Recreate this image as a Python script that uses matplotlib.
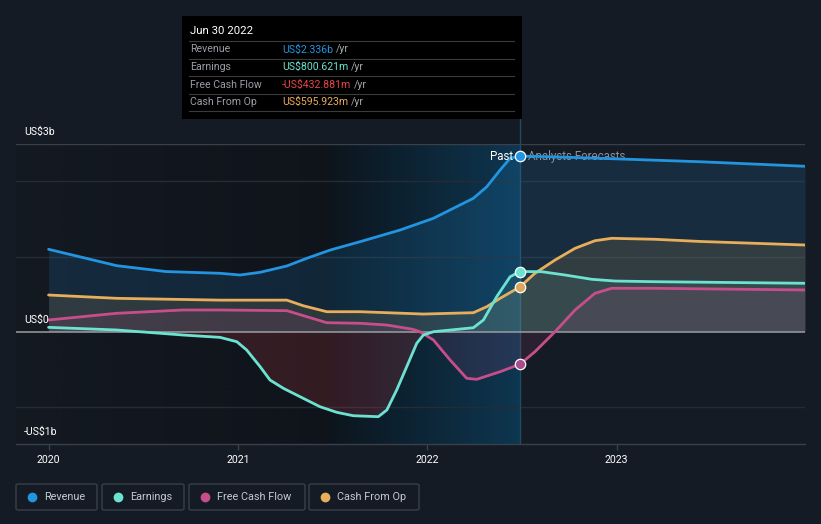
import numpy as np
import matplotlib
matplotlib.use("Agg")
import matplotlib.pyplot as plt
from matplotlib.lines import Line2D
from matplotlib.patches import Rectangle, FancyBboxPatch
from matplotlib.colors import to_rgb

plt.rcParams['font.family'] = ['Roboto', 'DejaVu Sans']

# ---------------- data (US$ billions, decimal years) ----------------
rev_dates = [2020.0, 2020.36, 2020.62, 2020.905, 2021.011, 2021.117, 2021.258, 2021.363, 2021.487,
             2021.645, 2021.856, 2022.032, 2022.243, 2022.314, 2022.384, 2022.437, 2022.489,
             2022.60, 2022.912, 2023.44, 2023.994]
rev_vals = [1.096, 0.878, 0.80, 0.777, 0.754, 0.79, 0.874, 0.976, 1.086,
            1.197, 1.352, 1.508, 1.774, 1.928, 2.15, 2.306, 2.336,
            2.33, 2.306, 2.26, 2.20]

earn_dates = [2020.0, 2020.36, 2020.71, 2020.905, 2020.994, 2021.046, 2021.117, 2021.169, 2021.240,
              2021.345, 2021.433, 2021.522, 2021.609, 2021.741, 2021.786, 2021.838, 2021.891,
              2021.944, 2021.979, 2022.032, 2022.243, 2022.296, 2022.366, 2022.437, 2022.489,
              2022.604, 2022.727, 2022.868, 2022.991, 2023.202, 2023.994]
earn_vals = [0.058, 0.023, -0.044, -0.075, -0.133, -0.243, -0.465, -0.642, -0.753,
             -0.886, -0.997, -1.072, -1.117, -1.13, -1.041, -0.775, -0.465,
             -0.154, -0.044, 0.0, 0.053, 0.156, 0.465, 0.731, 0.8006,
             0.798, 0.754, 0.697, 0.674, 0.665, 0.644]

fcf_dates = [2020.0, 2020.36, 2020.71, 2020.905, 2021.258, 2021.363, 2021.469, 2021.645, 2021.786,
             2021.923, 2021.961, 2022.032, 2022.120, 2022.208, 2022.261, 2022.384, 2022.489,
             2022.568, 2022.674, 2022.780, 2022.885, 2022.973, 2023.202, 2023.994]
fcf_vals = [0.156, 0.245, 0.289, 0.289, 0.28, 0.2, 0.12, 0.112, 0.089,
            0.032, 0.0, -0.11, -0.376, -0.62, -0.633, -0.532, -0.433,
            -0.266, 0.0, 0.289, 0.511, 0.577, 0.577, 0.555]

cfo_dates = [2020.0, 2020.36, 2020.905, 2021.258, 2021.345, 2021.469, 2021.645, 2021.979, 2022.243,
             2022.314, 2022.384, 2022.489, 2022.568, 2022.674, 2022.780, 2022.885, 2022.973,
             2023.202, 2023.44, 2023.994]
cfo_vals = [0.488, 0.444, 0.42, 0.42, 0.345, 0.266, 0.266, 0.235, 0.253,
            0.333, 0.444, 0.596, 0.777, 0.953, 1.109, 1.21, 1.242,
            1.229, 1.20, 1.153]

present = 2022.489
band_start = 2021.49
year_ticks = [2020, 2021, 2022, 2023]
year_labels = ["2020", "2021", "2022", "2023"]
series_names = ["Revenue", "Earnings", "Free Cash Flow", "Cash From Op"]
tooltip_title = "Jun 30 2022"
tooltip_values = ["US$2.336b", "US$800.621m", "-US$432.881m", "US$595.923m"]

# ---------------- styles ----------------
BG = "#151b24"
C_REV = "#2394df"
C_EARN = "#6ce3d1"
C_FCF = "#c84e8b"
C_CFO = "#e8ae5c"
C_NEG = "#dc3c46"

W, H = 821, 524
fig = plt.figure(figsize=(W / 100, H / 100), dpi=100)
fig.patch.set_facecolor(BG)

def fx(px):
    return px / W

def fy(py):
    return 1 - py / H

ax = fig.add_axes([fx(16), fy(444), fx(805) - fx(16), fy(144.3) - fy(444)])
ax.set_facecolor(BG)
XL = (2019.828, 2023.994)
YL = (-1.493, 2.492)

# past-region darker gradient
g = np.linspace(0, 1, 256)
past = np.zeros((1, 256, 4))
past[0, :, :3] = to_rgb("#0c1016")
past[0, :, 3] = 0.15 + 0.45 * g
ax.imshow(past, extent=[XL[0], band_start, YL[0], YL[1]], aspect='auto', zorder=0.2,
          interpolation='bilinear')

# highlight band gradient
band = np.zeros((1, 256, 4))
c0 = np.array(to_rgb("#0a141c"))
c1 = np.array(to_rgb("#0c3f5e"))
band[0, :, :3] = c0[None, :] * (1 - g[:, None]) + c1[None, :] * g[:, None]
band[0, :, 3] = 0.78
ax.imshow(band, extent=[band_start, present, YL[0], YL[1]], aspect='auto', zorder=0.3,
          interpolation='bilinear')

# grid
for yv in [-1, 1, 2]:
    ax.axhline(yv, color="#252c36", lw=1.0, zorder=0.6)
ax.axhline(YL[1], color="#3a404a", lw=1.0, zorder=0.6)
ax.axvline(present, color="#1f4b63", lw=1.0, zorder=0.7)

# fills
ax.fill_between(rev_dates, 0, rev_vals, color=C_REV, alpha=0.15, lw=0, zorder=1)
ax.fill_between(cfo_dates, 0, cfo_vals, color=C_CFO, alpha=0.13, lw=0, zorder=1.1)
ev = np.array(earn_vals)
ax.fill_between(earn_dates, 0, ev, where=ev >= 0, interpolate=True, color=C_EARN, alpha=0.08, lw=0, zorder=1.2)
ax.fill_between(earn_dates, 0, ev, where=ev <= 0, interpolate=True, color=C_NEG, alpha=0.18, lw=0, zorder=1.2)
ax.fill_between(fcf_dates, 0, fcf_vals, color=C_FCF, alpha=0.12, lw=0, zorder=1.3)

ax.axhline(0, color="#9b9ca2", lw=1.1, zorder=2)

# lines
lw = 2.0
kw = dict(lw=lw, solid_capstyle='round', solid_joinstyle='round')
ax.plot(cfo_dates, cfo_vals, color=C_CFO, zorder=3, **kw)
ax.plot(fcf_dates, fcf_vals, color=C_FCF, zorder=3.1, **kw)
ax.plot(earn_dates, earn_vals, color=C_EARN, zorder=3.2, **kw)
ax.plot(rev_dates, rev_vals, color=C_REV, zorder=3.3, **kw)

# markers at present
def val_at(dates, vals, t):
    return vals[dates.index(t)]

for d, v, c in [(rev_dates, rev_vals, C_REV), (earn_dates, earn_vals, C_EARN),
                 (cfo_dates, cfo_vals, "#d9a65c"), (fcf_dates, fcf_vals, "#a84c8c")]:
    ax.plot([present], [val_at(d, v, present)], marker='o', ms=7.5, mfc=c, mec="white",
            mew=0.9, zorder=5)

ax.text(present - 0.035, val_at(rev_dates, rev_vals, present), "Past", color="white",
        fontsize=8.3, ha='right', va='center', zorder=6)
ax.text(present + 0.045, val_at(rev_dates, rev_vals, present), "Analysts Forecasts",
        color="#8d9198", fontsize=8.3, ha='left', va='center', zorder=2.9)

ax.set_xlim(*XL)
ax.set_ylim(*YL)
for s in ['left', 'right', 'top']:
    ax.spines[s].set_visible(False)
ax.spines['bottom'].set_color("#3a404a")
ax.spines['bottom'].set_linewidth(1.0)
ax.set_xticks(year_ticks)
ax.set_xticklabels(year_labels)
ax.tick_params(axis='x', colors="#3a404a", length=4, width=1, labelcolor="white",
               labelsize=7.6, pad=4)
ax.set_yticks([])

# y labels
fig.text(fx(24), fy(131.5), "US$3b", color="white", fontsize=7.6, va='center', ha='left')
fig.text(fx(24), fy(320), "US$0", color="white", fontsize=7.6, va='center', ha='left')
fig.text(fx(24), fy(432), "-US$1b", color="white", fontsize=7.6, va='center', ha='left')

# connector line above axes
fig.add_artist(Line2D([fx(520.3), fx(520.3)], [fy(119), fy(144)], color="#1f4b63", lw=1.0,
                      transform=fig.transFigure))

# tooltip
fig.add_artist(Rectangle((fx(182), fy(119)), fx(522) - fx(182), fy(16) - fy(119),
                         facecolor="black", edgecolor="none", transform=fig.transFigure, zorder=10))
fig.text(fx(190), fy(31), tooltip_title, color="white", fontsize=8.2, va='center', zorder=11)
for yy in [41, 58.5, 76, 93.5, 111]:
    fig.add_artist(Line2D([fx(189), fx(514)], [fy(yy), fy(yy)], color="#3b3b3b", lw=0.8,
                          transform=fig.transFigure, zorder=11))
val_colors = [C_REV, C_EARN, "#e84545", C_CFO]
row_y = [49.5, 67, 84.5, 102]
renderer = fig.canvas.get_renderer()
for name, val, col, yy in zip(series_names, tooltip_values, val_colors, row_y):
    fig.text(fx(190), fy(yy), name, color="#9a9ea6", fontsize=7.6, va='center', zorder=11)
    t = fig.text(fx(282), fy(yy), val, color=col, fontsize=7.6, va='center', zorder=11)
    bb = t.get_window_extent(renderer=renderer)
    fig.text(bb.x1 / W + fx(3), fy(yy), "/yr", color="#a3a7ad", fontsize=7.6, va='center', zorder=11)

# legend
leg_boxes = [(16, 97), (102, 184), (189, 305), (309, 419)]
leg_cols = [C_REV, C_EARN, C_FCF, C_CFO]
for (x0, x1), name, col in zip(leg_boxes, series_names, leg_cols):
    fig.add_artist(FancyBboxPatch((fx(x0), fy(510)), fx(x1) - fx(x0), fy(484) - fy(510),
                                  boxstyle="round,pad=0,rounding_size=0.003",
                                  facecolor="none", edgecolor="#3a3f48", lw=1.0,
                                  transform=fig.transFigure))
    fig.add_artist(Line2D([fx(x0 + 15.5)], [fy(497)], marker='o', ms=6, mfc=col, mec=col,
                          transform=fig.transFigure))
    fig.text(fx(x0 + 28), fy(497.5), name, color="#c5c9cf", fontsize=7.8, va='center', ha='left')

fig.savefig("out.png", dpi=100, facecolor=BG)
